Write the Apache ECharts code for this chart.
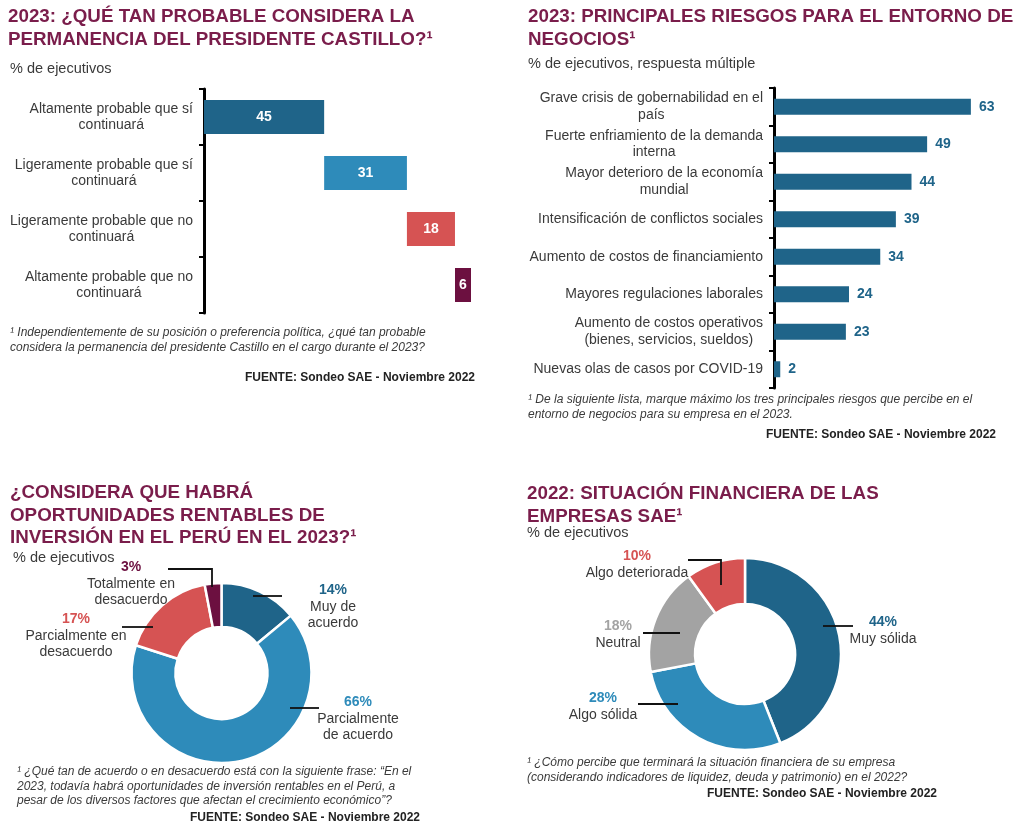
<!DOCTYPE html>
<html><head><meta charset="utf-8">
<script src="https://cdn.jsdelivr.net/npm/echarts@6/dist/echarts.min.js"></script>
<style>html,body{margin:0;padding:0;background:#fff}#c{width:1024px;height:832px}</style>
</head><body><div id="c"></div>
<script>
// ---------- DATA ----------
const p1Categories = ['Altamente probable que sí\ncontinuará', 'Ligeramente probable que sí\ncontinuará', 'Ligeramente probable que no\ncontinuará', 'Altamente probable que no\ncontinuará'];
const p1Values = [45, 31, 18, 6];

const p2Categories = ['Grave crisis de gobernabilidad en el\npaís', 'Fuerte enfriamiento de la demanda\ninterna', 'Mayor deterioro de la economía\nmundial', 'Intensificación de conflictos sociales', 'Aumento de costos de financiamiento', 'Mayores regulaciones laborales', 'Aumento de costos operativos\n(bienes, servicios, sueldos)', 'Nuevas olas de casos por COVID-19'];
const p2Values = [63, 49, 44, 39, 34, 24, 23, 2];

const p3Names = ['Muy de\nacuerdo', 'Parcialmente\nde acuerdo', 'Parcialmente en\ndesacuerdo', 'Totalmente en\ndesacuerdo'];
const p3Values = [14, 66, 17, 3];

const p4Names = ['Muy sólida', 'Algo sólida', 'Neutral', 'Algo deteriorada'];
const p4Values = [44, 28, 18, 10];

const titles = [
  ['2023: ¿QUÉ TAN PROBABLE CONSIDERA LA', 'PERMANENCIA DEL PRESIDENTE CASTILLO?¹'],
  ['2023: PRINCIPALES RIESGOS PARA EL ENTORNO DE', 'NEGOCIOS¹'],
  ['¿CONSIDERA QUE HABRÁ', 'OPORTUNIDADES RENTABLES DE', 'INVERSIÓN EN EL PERÚ EN EL 2023?¹'],
  ['2022: SITUACIÓN FINANCIERA DE LAS', 'EMPRESAS SAE¹']
];
const subtitles = ['% de ejecutivos', '% de ejecutivos, respuesta múltiple', '% de ejecutivos', '% de ejecutivos'];
const footnotes = [
  ['¹ Independientemente de su posición o preferencia política, ¿qué tan probable', 'considera la permanencia del presidente Castillo en el cargo durante el 2023?'],
  ['¹ De la siguiente lista, marque máximo los tres principales riesgos que percibe en el', 'entorno de negocios para su empresa en el 2023.'],
  ['¹ ¿Qué tan de acuerdo o en desacuerdo está con la siguiente frase: “En el', '2023, todavía habrá oportunidades de inversión rentables en el Perú, a', 'pesar de los diversos factores que afectan el crecimiento económico”?'],
  ['¹ ¿Cómo percibe que terminará la situación financiera de su empresa', '(considerando indicadores de liquidez, deuda y patrimonio) en el 2022?']
];
const source = 'FUENTE: Sondeo SAE - Noviembre 2022';

// ---------- STYLE / LAYOUT ----------
const FF = '"Liberation Sans", Arial, sans-serif';
const C = { maroonT: '#7a1d4b', dark: '#1f6489', light: '#2e8bba', red: '#d65353', maroon: '#6c1040', gray: '#a3a3a3', text: '#3a3a3a' };
const p1Colors = [C.dark, C.light, C.red, C.maroon];
const p3Colors = [C.dark, C.light, C.red, C.maroon];
const p4Colors = [C.dark, C.light, C.gray, C.red];

const titlePos = [[8, 17, 23], [528, 17, 23], [10, 493, 22.5], [527, 494, 22.5]];
const subPos = [[10, 69], [528, 64], [13, 558], [527, 533]];
const footPos = [[10, 333], [528, 400], [17, 772], [527, 763]];
const srcPos = [[475, 378], [996, 435], [420, 818], [937, 794]];

// label layout for donuts: [x center, y of percent], leader polyline
const p3Layout = [
  { x: 333, y: 590, line: [[253, 596], [282, 596]] },
  { x: 358, y: 702, line: [[290, 708], [319, 708]] },
  { x: 76, y: 619, line: [[122, 627], [153, 627]] },
  { x: 131, y: 567, line: [[168, 569], [212, 569], [212, 587]] }
];
const p4Layout = [
  { x: 883, y: 622, line: [[823, 626], [853, 626]] },
  { x: 603, y: 698, line: [[638, 704], [678, 704]] },
  { x: 618, y: 626, line: [[643, 633], [680, 633]] },
  { x: 637, y: 556, line: [[688, 560], [721, 560], [721, 585]] }
];

// ---------- BUILD ----------
const p1Base = p1Values.map((v, i) => p1Values.slice(0, i).reduce((a, b) => a + b, 0));

function richLabel(v) {
  return v.split('\n').map(s => '{c|' + s + '}').join('\n');
}

const graphic = [];
function txt(x, y, text, font, fill, align) {
  graphic.push({ type: 'text', x: x, y: y, silent: true, z: 100,
    style: { text: text, font: font, fill: fill, textAlign: align || 'left', textVerticalAlign: 'middle' } });
}
titles.forEach((lines, k) => {
  lines.forEach((t, j) => txt(titlePos[k][0], titlePos[k][1] + j * titlePos[k][2], t, 'bold 18.8px ' + FF, C.maroonT));
});
subtitles.forEach((t, k) => txt(subPos[k][0], subPos[k][1], t, '14.5px ' + FF, C.text));
footnotes.forEach((lines, k) => {
  lines.forEach((t, j) => txt(footPos[k][0], footPos[k][1] + j * 14.5, t, 'italic 12px ' + FF, C.text));
});
srcPos.forEach(p => txt(p[0], p[1], source, 'bold 12px ' + FF, '#222', 'right'));

function donutLabels(names, values, colors, layout) {
  names.forEach((n, i) => {
    const L = layout[i];
    txt(L.x, L.y, values[i] + '%', 'bold 14px ' + FF, colors[i], 'center');
    n.split('\n').forEach((s, j) => txt(L.x, L.y + 17 + j * 16.5, s, '14px ' + FF, C.text, 'center'));
    graphic.push({ type: 'polyline', silent: true, z: 100, shape: { points: L.line }, style: { stroke: '#111', lineWidth: 1.8, fill: null } });
  });
}
donutLabels(p3Names, p3Values, p3Colors, p3Layout);
donutLabels(p4Names, p4Values, p4Colors, p4Layout);

const catAxisCommon = {
  type: 'category', inverse: true,
  axisLine: { show: true, lineStyle: { color: '#000', width: 3 } },
  axisTick: { show: true, length: 5, lineStyle: { color: '#000', width: 2 } },
  axisLabel: { margin: 11, fontFamily: FF, fontSize: 14, color: C.text, lineHeight: 16.5,
    formatter: richLabel, rich: { c: { align: 'center', fontFamily: FF, fontSize: 14, color: C.text, lineHeight: 16.5 } } }
};

const option = {
  backgroundColor: '#fff',
  animation: false,
  grid: [
    { left: 204, top: 89, width: 267, height: 224 },
    { left: 774, top: 88, width: 268, height: 300 }
  ],
  xAxis: [
    { type: 'value', gridIndex: 0, min: 0, max: 100, show: false },
    { type: 'value', gridIndex: 1, min: 0, max: 80, show: false }
  ],
  yAxis: [
    Object.assign({ gridIndex: 0, data: p1Categories }, catAxisCommon),
    Object.assign({ gridIndex: 1, data: p2Categories }, catAxisCommon)
  ],
  series: [
    { type: 'bar', xAxisIndex: 0, yAxisIndex: 0, stack: 'w', data: p1Base, barWidth: 34,
      itemStyle: { color: 'transparent' }, silent: true },
    { type: 'bar', xAxisIndex: 0, yAxisIndex: 0, stack: 'w', barWidth: 34,
      data: p1Values.map((v, i) => ({ value: v, itemStyle: { color: p1Colors[i] } })),
      label: { show: true, position: 'inside', color: '#fff', fontWeight: 'bold', fontSize: 14, fontFamily: FF } },
    { type: 'bar', xAxisIndex: 1, yAxisIndex: 1, data: p2Values, barWidth: 16,
      itemStyle: { color: C.dark },
      label: { show: true, position: 'right', distance: 8, color: C.dark, fontWeight: 'bold', fontSize: 14, fontFamily: FF } },
    { type: 'pie', center: [221.5, 673], radius: [46, 90], startAngle: 90, clockwise: true,
      label: { show: false }, labelLine: { show: false },
      itemStyle: { borderColor: '#fff', borderWidth: 2.5 },
      data: p3Names.map((n, i) => ({ name: n, value: p3Values[i], itemStyle: { color: p3Colors[i] } })) },
    { type: 'pie', center: [745, 654], radius: [50, 96], startAngle: 90, clockwise: true,
      label: { show: false }, labelLine: { show: false },
      itemStyle: { borderColor: '#fff', borderWidth: 2.5 },
      data: p4Names.map((n, i) => ({ name: n, value: p4Values[i], itemStyle: { color: p4Colors[i] } })) }
  ],
  graphic: graphic
};

const chart = echarts.init(document.getElementById('c'), null, { renderer: 'canvas' });
chart.setOption(option);
</script>
</body></html>
